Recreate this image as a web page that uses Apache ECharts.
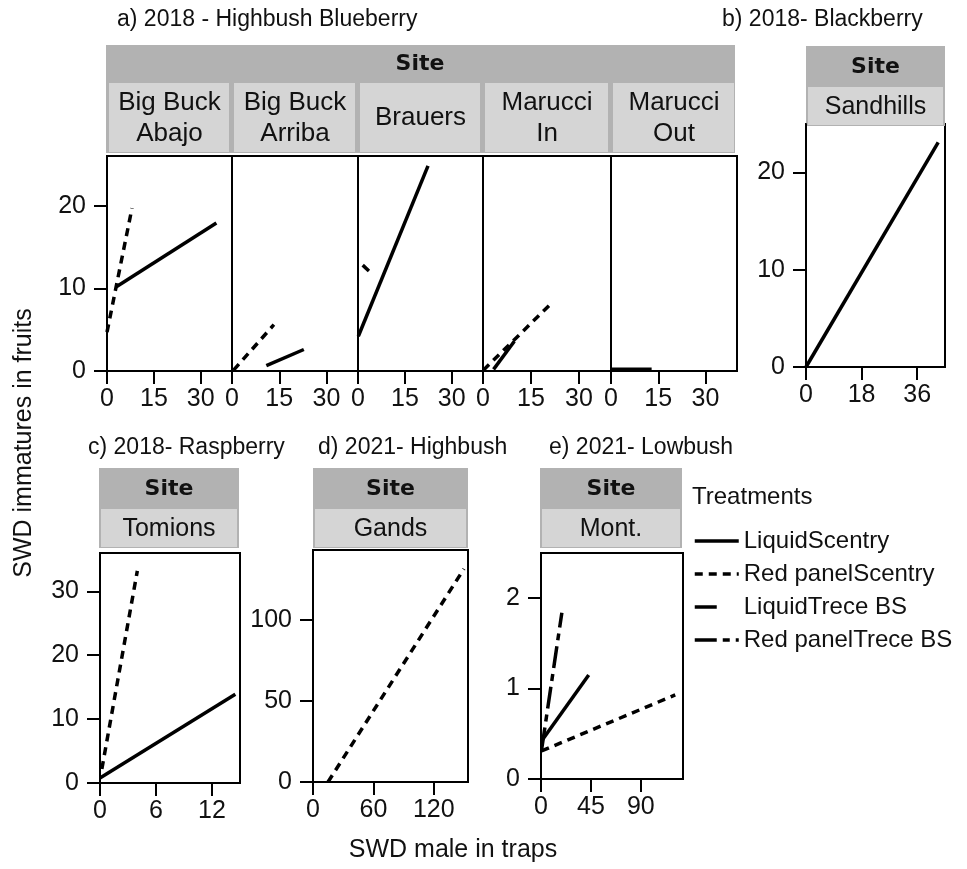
<!DOCTYPE html>
<html>
<head>
<meta charset="utf-8">
<script src="https://cdn.jsdelivr.net/npm/echarts@6/dist/echarts.min.js"></script>
<style>
  html, body { margin: 0; padding: 0; background: #fff; }
  #chart { width: 967px; height: 869px; }
</style>
</head>
<body>
<div id="chart"></div>
<script>
const treatments = ['LiquidScentry', 'Red panelScentry', 'LiquidTrece BS', 'Red panelTrece BS']

// a) 2018 - Highbush Blueberry, fitted lines [males in traps, immatures in fruits]
const abajoLiquid = [[3, 10.2], [35, 17.9]]
const abajoRedPanel = [[0, 4.7], [8, 19.7]]
const arribaRedPanel = [[0.5, 0.1], [13.3, 5.6]]
const arribaLiquid = [[10.9, 0.65], [22.8, 2.6]]
const brauersLiquid = [[0.1, 4.2], [22.4, 24.8]]
const brauersLiquidTrece = [[1.5, 12.8], [3.5, 12.1]]
const marucciInRedPanel = [[0.1, 0.1], [21.4, 8.2]]
const marucciInLiquid = [[3.3, 0.2], [9.8, 3.6]]
const marucciOutLiquid = [[0.2, 0.2], [12.9, 0.2]]
// b) 2018 - Blackberry
const sandhillsLiquid = [[0, 0], [42.8, 23.1]]
// c) 2018 - Raspberry
const tomionsRedPanel = [[0.2, 2.2], [4, 33.2]]
const tomionsLiquid = [[0, 0.8], [14.5, 13.9]]
// d) 2021 - Highbush
const gandsRedPanel = [[14.9, 0], [150, 131.4]]
// e) 2021 - Lowbush
const montRedPanelTrece = [[0.6, 0.33], [18.8, 1.84]]
const montLiquid = [[0.5, 0.42], [43, 1.15]]
const montRedPanel = [[0.5, 0.31], [121, 0.93]]

// tick labels
const xTicksA = [0, 15, 30]
const yTicksA = [0, 10, 20]
const xTicksB = [0, 18, 36]
const yTicksB = [0, 10, 20]
const xTicksC = [0, 6, 12]
const yTicksC = [0, 10, 20, 30]
const xTicksD = [0, 60, 120]
const yTicksD = [0, 50, 100]
const xTicksE = [0, 45, 90]
const yTicksE = [0, 1, 2]

const siteNamesA = ['Big Buck\nAbajo', 'Big Buck\nArriba', 'Brauers', 'Marucci\nIn', 'Marucci\nOut']

const FONT = '"Liberation Sans", Arial, sans-serif'
const dashes = {
  'LiquidScentry': 'solid',
  'Red panelScentry': [8, 6],
  'LiquidTrece BS': [22, 22],
  'Red panelTrece BS': [22, 6, 7, 6]
}

// panel layout
const panels = [
  { left: 107, top: 156, width: 125, height: 215, xMax: 40, yMax: 26, xTicks: xTicksA, yTicks: yTicksA, showY: true },
  { left: 232, top: 156, width: 126, height: 215, xMax: 40, yMax: 26, xTicks: xTicksA, yTicks: yTicksA, showY: false },
  { left: 358, top: 156, width: 125, height: 215, xMax: 40, yMax: 26, xTicks: xTicksA, yTicks: yTicksA, showY: false },
  { left: 483, top: 156, width: 128, height: 215, xMax: 40, yMax: 26, xTicks: xTicksA, yTicks: yTicksA, showY: false },
  { left: 611, top: 156, width: 126, height: 215, xMax: 40, yMax: 26, xTicks: xTicksA, yTicks: yTicksA, showY: false },
  { left: 806, top: 124, width: 139, height: 243, xMax: 45, yMax: 25, xTicks: xTicksB, yTicks: yTicksB, showY: true },
  { left: 100, top: 553, width: 140, height: 230, xMax: 15, yMax: 36, xTicks: xTicksC, yTicks: yTicksC, showY: true },
  { left: 313, top: 550, width: 155, height: 232, xMax: 154, yMax: 143, xTicks: xTicksD, yTicks: yTicksD, showY: true },
  { left: 541, top: 553, width: 142, height: 226, xMax: 128, yMax: 2.5, xTicks: xTicksE, yTicks: yTicksE, showY: true }
]

const lines = [
  { panel: 0, name: treatments[0], data: abajoLiquid },
  { panel: 0, name: treatments[1], data: abajoRedPanel },
  { panel: 1, name: treatments[1], data: arribaRedPanel },
  { panel: 1, name: treatments[0], data: arribaLiquid },
  { panel: 2, name: treatments[0], data: brauersLiquid },
  { panel: 2, name: treatments[2], data: brauersLiquidTrece },
  { panel: 3, name: treatments[1], data: marucciInRedPanel },
  { panel: 3, name: treatments[0], data: marucciInLiquid },
  { panel: 4, name: treatments[0], data: marucciOutLiquid },
  { panel: 5, name: treatments[0], data: sandhillsLiquid },
  { panel: 6, name: treatments[1], data: tomionsRedPanel },
  { panel: 6, name: treatments[0], data: tomionsLiquid },
  { panel: 7, name: treatments[1], data: gandsRedPanel },
  { panel: 8, name: treatments[3], data: montRedPanelTrece },
  { panel: 8, name: treatments[0], data: montLiquid },
  { panel: 8, name: treatments[1], data: montRedPanel }
]

const DARK = '#b2b2b2'
const LIGHT = '#d5d5d5'

const label = (x, y, text, opts = {}) => ({
  type: 'text',
  x, y,
  rotation: opts.rotation || 0,
  style: {
    text,
    fill: '#111',
    font: `${opts.bold ? 'bold ' : ''}${opts.size || 23}px ${opts.family || FONT}`,
    align: opts.align || 'left',
    verticalAlign: 'middle',
    lineHeight: opts.lineHeight
  }
})
const rect = (x, y, w, h, fill) => ({ type: 'rect', shape: { x, y, width: w, height: h }, style: { fill } })

// strips ("Site" header + site name cells)
const graphics = []
graphics.push(rect(106, 45, 629, 108, DARK))
graphics.push(label(420, 64, 'Site', { bold: true, size: 22, family: '"DejaVu Sans", sans-serif', align: 'center' }))
panels.slice(0, 5).forEach((p, i) => {
  graphics.push(rect(p.left + 2, 83, p.width - 5, 69, LIGHT))
  graphics.push(label(p.left + p.width / 2, 118, siteNamesA[i], { size: 26, align: 'center', lineHeight: 31 }))
})
const singleStrips = [
  { x: 806, w: 139, y: 46, name: 'Sandhills' },
  { x: 99, w: 140, y: 468, name: 'Tomions' },
  { x: 313, w: 155, y: 468, name: 'Gands' },
  { x: 540, w: 142, y: 468, name: 'Mont.' }
]
singleStrips.forEach((s) => {
  graphics.push(rect(s.x, s.y, s.w, 80, DARK))
  graphics.push(rect(s.x + 2, s.y + 41, s.w - 4, 38, LIGHT))
  graphics.push(label(s.x + s.w / 2, s.y + 21, 'Site', { bold: true, size: 22, family: '"DejaVu Sans", sans-serif', align: 'center' }))
  graphics.push(label(s.x + s.w / 2, s.y + 61, s.name, { size: 25, align: 'center' }))
})

// panel titles
graphics.push(label(117, 20, 'a) 2018 - Highbush Blueberry'))
graphics.push(label(722, 20, 'b) 2018- Blackberry'))
graphics.push(label(88, 448, 'c) 2018- Raspberry'))
graphics.push(label(318, 448, 'd) 2021- Highbush'))
graphics.push(label(549, 448, 'e) 2021- Lowbush'))
// axis titles
graphics.push(label(24, 443, 'SWD immatures in fruits', { size: 25, align: 'center', rotation: Math.PI / 2 }))
graphics.push(label(453, 850, 'SWD male in traps', { size: 25, align: 'center' }))
graphics.push(label(692, 497, 'Treatments', { size: 24 }))

const axisText = { color: '#111', fontSize: 25, fontFamily: FONT }

const options = {
  animation: false,
  backgroundColor: '#fff',
  graphic: graphics,
  grid: panels.map((p) => ({
    left: p.left,
    top: p.top,
    width: p.width,
    height: p.height,
    show: true,
    borderColor: '#000',
    borderWidth: 2,
    outerBoundsMode: 'none'
  })),
  xAxis: panels.map((p, i) => ({
    type: 'value',
    gridIndex: i,
    min: 0,
    max: p.xMax,
    splitLine: { show: false },
    axisLine: { show: true, onZero: false, lineStyle: { color: '#000', width: 2 } },
    axisTick: { show: true, length: 13, customValues: p.xTicks, lineStyle: { color: '#000', width: 2 } },
    axisLabel: { show: true, margin: 16, customValues: p.xTicks, ...axisText }
  })),
  yAxis: panels.map((p, i) => ({
    type: 'value',
    gridIndex: i,
    min: 0,
    max: p.yMax,
    splitLine: { show: false },
    axisLine: { show: true, onZero: false, lineStyle: { color: '#000', width: 2 } },
    axisTick: { show: p.showY, length: 13, customValues: p.yTicks, lineStyle: { color: '#000', width: 2 } },
    axisLabel: { show: p.showY, margin: 21, customValues: p.yTicks, ...axisText }
  })),
  legend: {
    orient: 'vertical',
    left: 688,
    top: 524,
    itemWidth: 44,
    itemHeight: 20,
    itemGap: 9,
    selectedMode: false,
    data: treatments,
    itemStyle: { opacity: 0 },
    lineStyle: { width: 3.5 },
    textStyle: { color: '#111', fontSize: 24, fontFamily: FONT }
  },
  series: lines.map((l) => ({
    type: 'line',
    name: l.name,
    xAxisIndex: l.panel,
    yAxisIndex: l.panel,
    data: l.data,
    symbol: 'none',
    lineStyle: { color: '#000', width: 3.5, type: dashes[l.name] },
    itemStyle: { color: '#000' }
  }))
}

const mChart = echarts.init(document.getElementById('chart'))
mChart.setOption(options)
</script>
</body>
</html>
